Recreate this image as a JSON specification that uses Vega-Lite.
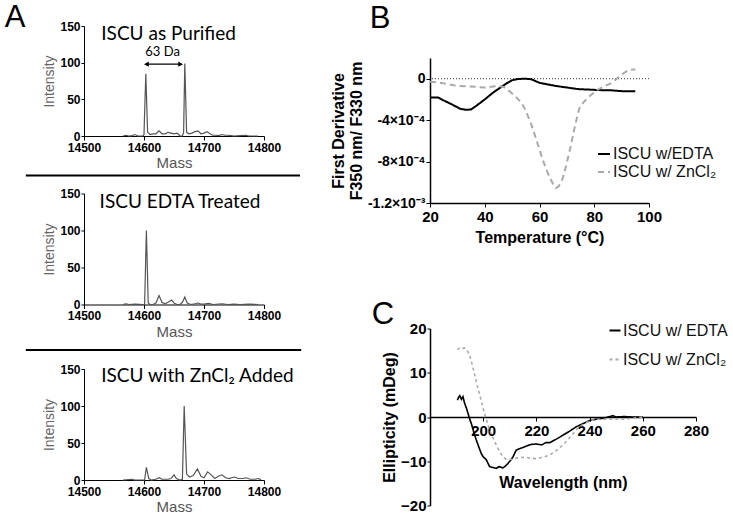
{
  "$schema": "https://vega.github.io/schema/vega-lite/v6.json",
  "padding": {"left": 4, "top": 2, "right": 0, "bottom": 0},
  "spacing": 27,
  "resolve": {"scale": {"color": "independent", "strokeDash": "independent"}},
  "config": {
    "view": {"stroke": null},
    "font": "Liberation Sans",
    "axis": {"domainColor": "#000", "tickColor": "#000", "labelColor": "#000", "titleColor": "#000", "grid": false, "labelFontWeight": "bold", "labelFont": "Liberation Sans", "titleFont": "Liberation Sans", "tickSize": 4, "labelFlush": false, "labelOverlap": false},
    "legend": {"padding": 0, "symbolType": "stroke", "symbolStrokeWidth": 2, "labelFont": "Liberation Sans", "labelFontSize": 16, "labelColor": "#111", "labelOffset": 4}
  },
  "hconcat": [
    {
      "spacing": 9,
      "vconcat": [
        {
          "spacing": 3.5,
          "vconcat": [
            {
              "width": 180, "height": 110,
              "layer": [
                {
                  "data": {"values": [
                    {"m": 14565, "i": 0}, {"m": 14570, "i": 1}, {"m": 14575, "i": 0}, {"m": 14580, "i": 0.5}, {"m": 14585, "i": 2}, {"m": 14590, "i": 0}, {"m": 14598, "i": 0}, {"m": 14600, "i": 2}, {"m": 14603, "i": 85}, {"m": 14606, "i": 5}, {"m": 14610, "i": 2}, {"m": 14615, "i": 3}, {"m": 14620, "i": 3}, {"m": 14625, "i": 7}, {"m": 14630, "i": 3}, {"m": 14635, "i": 3}, {"m": 14640, "i": 5}, {"m": 14645, "i": 4}, {"m": 14650, "i": 3}, {"m": 14655, "i": 4}, {"m": 14658, "i": 2}, {"m": 14660, "i": 0}, {"m": 14664, "i": 0}, {"m": 14666, "i": 5}, {"m": 14668, "i": 99}, {"m": 14671, "i": 5}, {"m": 14675, "i": 3}, {"m": 14680, "i": 4}, {"m": 14685, "i": 6}, {"m": 14690, "i": 7}, {"m": 14695, "i": 3}, {"m": 14700, "i": 4}, {"m": 14705, "i": 6}, {"m": 14710, "i": 3}, {"m": 14715, "i": 1}, {"m": 14720, "i": 1}, {"m": 14725, "i": 0.5}, {"m": 14730, "i": 2}, {"m": 14735, "i": 1}, {"m": 14740, "i": 1}, {"m": 14745, "i": 0.5}, {"m": 14750, "i": 0}, {"m": 14760, "i": 0.5}, {"m": 14770, "i": 1}, {"m": 14775, "i": 0}, {"m": 14790, "i": 0}
                  ]},
                  "mark": {"type": "line", "color": "#555", "strokeWidth": 1.2},
                  "encoding": {
                    "x": {"field": "m", "type": "quantitative", "scale": {"domain": [14500, 14800], "nice": false}, "axis": {"values": [14500, 14600, 14700, 14800], "format": "d", "title": "Mass", "labelFontSize": 12, "titleFontSize": 15, "titleFontWeight": "normal", "titleColor": "#555", "tickSize": 4, "labelPadding": 2, "titlePadding": 2.5}},
                    "y": {"field": "i", "type": "quantitative", "scale": {"domain": [0, 150], "nice": false}, "axis": {"tickCount": 3, "title": "Intensity", "labelFontSize": 12, "titleFontSize": 14, "titleFontWeight": "normal", "titleColor": "#666", "tickSize": 3, "labelPadding": 1, "titlePadding": 3, "labelOverlap": false}}
                  }
                },
                {"data": {"values": [{}]}, "mark": {"type": "text", "text": "ISCU as Purified", "font": "Lato", "fontSize": 19, "align": "center", "baseline": "middle"}, "encoding": {"x": {"datum": 14641}, "y": {"datum": 139}}},
                {"data": {"values": [{}]}, "mark": {"type": "text", "text": "63 Da", "font": "Lato", "fontSize": 13, "align": "center", "baseline": "middle"}, "encoding": {"x": {"datum": 14631}, "y": {"datum": 114}}},
                {"data": {"values": [{}]}, "mark": {"type": "rule", "color": "#000", "strokeWidth": 1.3}, "encoding": {"x": {"datum": 14604}, "x2": {"datum": 14661}, "y": {"datum": 98}}},
                {"data": {"values": [{}]}, "mark": {"type": "point", "shape": "triangle-left", "filled": true, "color": "#000", "size": 30, "opacity": 1}, "encoding": {"x": {"datum": 14604}, "y": {"datum": 98}}},
                {"data": {"values": [{}]}, "mark": {"type": "point", "shape": "triangle-right", "filled": true, "color": "#000", "size": 30, "opacity": 1}, "encoding": {"x": {"datum": 14661}, "y": {"datum": 98}}},
                {"data": {"values": [{}]}, "mark": {"type": "text", "text": "A", "fontSize": 31, "align": "center", "baseline": "middle"}, "encoding": {"x": {"datum": 14385}, "y": {"datum": 160.25}}}
              ]
            },
            {
              "width": 180, "height": 111,
              "layer": [
                {
                  "data": {"values": [
                    {"m": 14565, "i": 0}, {"m": 14570, "i": 1}, {"m": 14575, "i": 0}, {"m": 14585, "i": 0.5}, {"m": 14598, "i": 0}, {"m": 14601, "i": 0}, {"m": 14604, "i": 100}, {"m": 14607, "i": 2}, {"m": 14610, "i": 0}, {"m": 14615, "i": 0}, {"m": 14620, "i": 2}, {"m": 14625, "i": 12}, {"m": 14630, "i": 3}, {"m": 14635, "i": 1}, {"m": 14640, "i": 3}, {"m": 14646, "i": 6}, {"m": 14650, "i": 2}, {"m": 14655, "i": 0}, {"m": 14660, "i": 0}, {"m": 14664, "i": 3}, {"m": 14668, "i": 10}, {"m": 14672, "i": 2}, {"m": 14678, "i": 0}, {"m": 14685, "i": 1}, {"m": 14690, "i": 2}, {"m": 14695, "i": 0.5}, {"m": 14700, "i": 0.5}, {"m": 14708, "i": 1.5}, {"m": 14715, "i": 0}, {"m": 14730, "i": 1}, {"m": 14740, "i": 0}, {"m": 14750, "i": 0.5}, {"m": 14760, "i": 0}, {"m": 14775, "i": 0.5}, {"m": 14790, "i": 0}
                  ]},
                  "mark": {"type": "line", "color": "#555", "strokeWidth": 1.2},
                  "encoding": {
                    "x": {"field": "m", "type": "quantitative", "scale": {"domain": [14500, 14800], "nice": false}, "axis": {"values": [14500, 14600, 14700, 14800], "format": "d", "title": "Mass", "labelFontSize": 12, "titleFontSize": 15, "titleFontWeight": "normal", "titleColor": "#555", "tickSize": 4, "labelPadding": 2, "titlePadding": 2.5}},
                    "y": {"field": "i", "type": "quantitative", "scale": {"domain": [0, 150], "nice": false}, "axis": {"tickCount": 3, "title": "Intensity", "labelFontSize": 12, "titleFontSize": 14, "titleFontWeight": "normal", "titleColor": "#666", "tickSize": 3, "labelPadding": 1, "titlePadding": 3, "labelOverlap": false}}
                  }
                },
                {"data": {"values": [{}]}, "mark": {"type": "text", "text": "ISCU EDTA Treated", "font": "Lato", "fontSize": 19, "align": "center", "baseline": "middle"}, "encoding": {"x": {"datum": 14660}, "y": {"datum": 139}}},
                {"data": {"values": [{}]}, "mark": {"type": "rule", "color": "#000", "strokeWidth": 2}, "encoding": {"x": {"datum": 14403}, "x2": {"datum": 14860}, "y": {"datum": 174.3}}}
              ]
            }
          ]
        },
        {
          "width": 180, "height": 111,
          "layer": [
            {
              "data": {"values": [
                {"m": 14565, "i": 0}, {"m": 14580, "i": 1}, {"m": 14585, "i": 0}, {"m": 14598, "i": 0}, {"m": 14601, "i": 0}, {"m": 14604, "i": 17}, {"m": 14608, "i": 2}, {"m": 14612, "i": 0}, {"m": 14620, "i": 1}, {"m": 14625, "i": 3}, {"m": 14630, "i": 1}, {"m": 14640, "i": 1}, {"m": 14645, "i": 2}, {"m": 14650, "i": 7}, {"m": 14654, "i": 2}, {"m": 14660, "i": 0}, {"m": 14664, "i": 1}, {"m": 14667, "i": 100}, {"m": 14671, "i": 8}, {"m": 14676, "i": 4}, {"m": 14682, "i": 6}, {"m": 14689, "i": 15}, {"m": 14695, "i": 5}, {"m": 14700, "i": 3}, {"m": 14706, "i": 11}, {"m": 14712, "i": 7}, {"m": 14718, "i": 2}, {"m": 14724, "i": 5}, {"m": 14730, "i": 7}, {"m": 14736, "i": 3}, {"m": 14742, "i": 2}, {"m": 14750, "i": 4}, {"m": 14757, "i": 2}, {"m": 14765, "i": 2}, {"m": 14770, "i": 3}, {"m": 14777, "i": 1}, {"m": 14785, "i": 1}, {"m": 14790, "i": 2}, {"m": 14795, "i": 0.5}
              ]},
              "mark": {"type": "line", "color": "#555", "strokeWidth": 1.2},
              "encoding": {
                "x": {"field": "m", "type": "quantitative", "scale": {"domain": [14500, 14800], "nice": false}, "axis": {"values": [14500, 14600, 14700, 14800], "format": "d", "title": "Mass", "labelFontSize": 12, "titleFontSize": 15, "titleFontWeight": "normal", "titleColor": "#555", "tickSize": 4, "labelPadding": 2, "titlePadding": 2.5}},
                "y": {"field": "i", "type": "quantitative", "scale": {"domain": [0, 150], "nice": false}, "axis": {"tickCount": 3, "title": "Intensity", "labelFontSize": 12, "titleFontSize": 14, "titleFontWeight": "normal", "titleColor": "#666", "tickSize": 3, "labelPadding": 1, "titlePadding": 3, "labelOverlap": false}}
              }
            },
            {"data": {"values": [{}]}, "mark": {"type": "text", "text": "ISCU with ZnCl₂ Added", "font": "Lato", "fontSize": 19, "align": "center", "baseline": "middle"}, "encoding": {"x": {"datum": 14689}, "y": {"datum": 140.5}}},
            {"data": {"values": [{}]}, "mark": {"type": "rule", "color": "#000", "strokeWidth": 2}, "encoding": {"x": {"datum": 14403}, "x2": {"datum": 14862}, "y": {"datum": 175.7}}}
          ]
        }
      ]
    },
    {
      "spacing": 53.5,
      "resolve": {"scale": {"color": "independent", "strokeDash": "independent"}},
      "vconcat": [
        {
          "spacing": 24,
          "vconcat": [
            {
              "width": 219, "height": 1,
              "data": {"values": [{}]},
              "mark": {"type": "text", "text": "B", "fontSize": 31, "align": "center", "baseline": "middle"},
              "encoding": {"x": {"datum": 1.74, "scale": {"domain": [20, 100], "nice": false}, "axis": null}, "y": {"datum": 8.5, "scale": {"domain": [0, 1], "nice": false}, "axis": null}}
            },
            {
              "width": 219, "height": 145,
              "layer": [
                {"data": {"values": [{}]}, "mark": {"type": "rule", "color": "#333", "strokeWidth": 1, "strokeDash": [1, 2]}, "encoding": {"y": {"datum": 0}}},
                {
                  "data": {"values": [
                    {"t": 20, "v": -0.000182, "s": "ISCU w/EDTA"}, {"t": 23, "v": -0.000182, "s": "ISCU w/EDTA"}, {"t": 25, "v": -0.00021, "s": "ISCU w/EDTA"}, {"t": 28, "v": -0.000248, "s": "ISCU w/EDTA"}, {"t": 31, "v": -0.00029, "s": "ISCU w/EDTA"}, {"t": 33, "v": -0.0003, "s": "ISCU w/EDTA"}, {"t": 35, "v": -0.000297, "s": "ISCU w/EDTA"}, {"t": 37, "v": -0.00026, "s": "ISCU w/EDTA"}, {"t": 40, "v": -0.0002, "s": "ISCU w/EDTA"}, {"t": 43, "v": -0.000135, "s": "ISCU w/EDTA"}, {"t": 46, "v": -0.00008, "s": "ISCU w/EDTA"}, {"t": 48, "v": -0.000045, "s": "ISCU w/EDTA"}, {"t": 50, "v": -0.000015, "s": "ISCU w/EDTA"}, {"t": 52, "v": -0.000003, "s": "ISCU w/EDTA"}, {"t": 55, "v": 0, "s": "ISCU w/EDTA"}, {"t": 57, "v": -0.000005, "s": "ISCU w/EDTA"}, {"t": 60, "v": -0.00004, "s": "ISCU w/EDTA"}, {"t": 63, "v": -0.000055, "s": "ISCU w/EDTA"}, {"t": 66, "v": -0.00007, "s": "ISCU w/EDTA"}, {"t": 70, "v": -0.000085, "s": "ISCU w/EDTA"}, {"t": 74, "v": -0.0001, "s": "ISCU w/EDTA"}, {"t": 78, "v": -0.000105, "s": "ISCU w/EDTA"}, {"t": 82, "v": -0.00011, "s": "ISCU w/EDTA"}, {"t": 86, "v": -0.000112, "s": "ISCU w/EDTA"}, {"t": 90, "v": -0.00012, "s": "ISCU w/EDTA"}, {"t": 95, "v": -0.00012, "s": "ISCU w/EDTA"},
                    {"t": 20, "v": -0.000029, "s": "ISCU w/ ZnCl₂"}, {"t": 23, "v": -0.000035, "s": "ISCU w/ ZnCl₂"}, {"t": 25, "v": -0.000045, "s": "ISCU w/ ZnCl₂"}, {"t": 28, "v": -0.00006, "s": "ISCU w/ ZnCl₂"}, {"t": 30, "v": -0.00007, "s": "ISCU w/ ZnCl₂"}, {"t": 35, "v": -0.000075, "s": "ISCU w/ ZnCl₂"}, {"t": 40, "v": -0.000085, "s": "ISCU w/ ZnCl₂"}, {"t": 43, "v": -0.000075, "s": "ISCU w/ ZnCl₂"}, {"t": 45, "v": -0.00007, "s": "ISCU w/ ZnCl₂"}, {"t": 47, "v": -0.00008, "s": "ISCU w/ ZnCl₂"}, {"t": 49, "v": -0.00012, "s": "ISCU w/ ZnCl₂"}, {"t": 51, "v": -0.000165, "s": "ISCU w/ ZnCl₂"}, {"t": 53.5, "v": -0.000235, "s": "ISCU w/ ZnCl₂"}, {"t": 55, "v": -0.00031, "s": "ISCU w/ ZnCl₂"}, {"t": 57, "v": -0.00044, "s": "ISCU w/ ZnCl₂"}, {"t": 59, "v": -0.0006, "s": "ISCU w/ ZnCl₂"}, {"t": 61, "v": -0.00077, "s": "ISCU w/ ZnCl₂"}, {"t": 63, "v": -0.00091, "s": "ISCU w/ ZnCl₂"}, {"t": 65, "v": -0.00102, "s": "ISCU w/ ZnCl₂"}, {"t": 66, "v": -0.001055, "s": "ISCU w/ ZnCl₂"}, {"t": 67, "v": -0.00104, "s": "ISCU w/ ZnCl₂"}, {"t": 68.5, "v": -0.00096, "s": "ISCU w/ ZnCl₂"}, {"t": 70, "v": -0.00081, "s": "ISCU w/ ZnCl₂"}, {"t": 71.5, "v": -0.00064, "s": "ISCU w/ ZnCl₂"}, {"t": 73, "v": -0.00045, "s": "ISCU w/ ZnCl₂"}, {"t": 74.5, "v": -0.00029, "s": "ISCU w/ ZnCl₂"}, {"t": 76, "v": -0.00023, "s": "ISCU w/ ZnCl₂"}, {"t": 78, "v": -0.000175, "s": "ISCU w/ ZnCl₂"}, {"t": 81, "v": -0.00011, "s": "ISCU w/ ZnCl₂"}, {"t": 84, "v": -0.00007, "s": "ISCU w/ ZnCl₂"}, {"t": 86, "v": -0.000045, "s": "ISCU w/ ZnCl₂"}, {"t": 88, "v": -0.000005, "s": "ISCU w/ ZnCl₂"}, {"t": 90, "v": 0.00004, "s": "ISCU w/ ZnCl₂"}, {"t": 92, "v": 0.000075, "s": "ISCU w/ ZnCl₂"}, {"t": 94, "v": 0.00009, "s": "ISCU w/ ZnCl₂"}, {"t": 95, "v": 0.00009, "s": "ISCU w/ ZnCl₂"}
                  ]},
                  "mark": {"type": "line", "strokeWidth": 2},
                  "encoding": {
                    "x": {"field": "t", "type": "quantitative", "scale": {"domain": [20, 100], "nice": false}, "axis": {"values": [20, 40, 60, 80, 100], "title": "Temperature (°C)", "labelFontSize": 15, "titleFontSize": 16, "titleFontWeight": "bold", "tickSize": 4, "labelPadding": 2, "titlePadding": 5, "domainWidth": 1.5}},
                    "y": {"field": "v", "type": "quantitative", "scale": {"domain": [-0.0012, 0.0002], "nice": false, "zero": false}, "axis": {"values": [0, -0.0004, -0.0008, -0.0012], "labelExpr": "datum.value > -0.0001 ? '0' : datum.value > -0.0005 ? '-4×10⁻⁴' : datum.value > -0.0009 ? '-8×10⁻⁴' : '-1.2×10⁻³'", "title": ["First Derivative", "F350 nm/ F330 nm"], "labelFontSize": 14, "titleFontSize": 16, "titleFontWeight": "bold", "titleLineHeight": 18, "tickSize": 4, "labelPadding": 1, "titlePadding": 3, "domainWidth": 1.5}},
                    "color": {"field": "s", "type": "nominal", "scale": {"domain": ["ISCU w/EDTA", "ISCU w/ ZnCl₂"], "range": ["#000000", "#aaaaaa"]}, "legend": {"title": null, "orient": "none", "legendX": 166, "legendY": 120, "symbolSize": 144, "rowPadding": 2, "labelOffset": 1}},
                    "strokeDash": {"field": "s", "type": "nominal", "scale": {"domain": ["ISCU w/EDTA", "ISCU w/ ZnCl₂"], "range": [[1, 0], [6, 4]]}, "legend": {"title": null, "orient": "none", "legendX": 166, "legendY": 120, "symbolSize": 144, "rowPadding": 2, "labelOffset": 1}}
                  }
                }
              ]
            }
          ]
        },
        {
          "width": 266, "height": 177,
          "layer": [
            {
              "data": {"values": [
                {"w": 190.3, "e": 3.8, "s": "ISCU w/ EDTA"}, {"w": 190.8, "e": 4.5, "s": "ISCU w/ EDTA"}, {"w": 191.2, "e": 4.8, "s": "ISCU w/ EDTA"}, {"w": 191.8, "e": 4.0, "s": "ISCU w/ EDTA"}, {"w": 192.4, "e": 4.6, "s": "ISCU w/ EDTA"}, {"w": 193, "e": 3.1, "s": "ISCU w/ EDTA"}, {"w": 193.7, "e": 2.0, "s": "ISCU w/ EDTA"}, {"w": 194.3, "e": 0.8, "s": "ISCU w/ EDTA"}, {"w": 195, "e": -0.6, "s": "ISCU w/ EDTA"}, {"w": 195.5, "e": -1.4, "s": "ISCU w/ EDTA"}, {"w": 196.5, "e": -3.5, "s": "ISCU w/ EDTA"}, {"w": 197.4, "e": -5.2, "s": "ISCU w/ EDTA"}, {"w": 198.5, "e": -7, "s": "ISCU w/ EDTA"}, {"w": 199.3, "e": -8.3, "s": "ISCU w/ EDTA"}, {"w": 200, "e": -9, "s": "ISCU w/ EDTA"}, {"w": 201.1, "e": -9.6, "s": "ISCU w/ EDTA"}, {"w": 202.4, "e": -11.2, "s": "ISCU w/ EDTA"}, {"w": 203.5, "e": -11.4, "s": "ISCU w/ EDTA"}, {"w": 204.9, "e": -11.6, "s": "ISCU w/ EDTA"}, {"w": 206, "e": -11.2, "s": "ISCU w/ EDTA"}, {"w": 207.4, "e": -11.5, "s": "ISCU w/ EDTA"}, {"w": 208.5, "e": -11.0, "s": "ISCU w/ EDTA"}, {"w": 209.3, "e": -10.5, "s": "ISCU w/ EDTA"}, {"w": 210.3, "e": -9.8, "s": "ISCU w/ EDTA"}, {"w": 211.2, "e": -9, "s": "ISCU w/ EDTA"}, {"w": 212.4, "e": -7.5, "s": "ISCU w/ EDTA"}, {"w": 213.5, "e": -7.2, "s": "ISCU w/ EDTA"}, {"w": 214.9, "e": -6.9, "s": "ISCU w/ EDTA"}, {"w": 216.5, "e": -6.5, "s": "ISCU w/ EDTA"}, {"w": 218, "e": -6.2, "s": "ISCU w/ EDTA"}, {"w": 219.9, "e": -6.1, "s": "ISCU w/ EDTA"}, {"w": 222, "e": -6.3, "s": "ISCU w/ EDTA"}, {"w": 223.5, "e": -5.8, "s": "ISCU w/ EDTA"}, {"w": 225, "e": -5.8, "s": "ISCU w/ EDTA"}, {"w": 227.5, "e": -5.0, "s": "ISCU w/ EDTA"}, {"w": 230, "e": -4.1, "s": "ISCU w/ EDTA"}, {"w": 232.5, "e": -3.2, "s": "ISCU w/ EDTA"}, {"w": 235, "e": -2.2, "s": "ISCU w/ EDTA"}, {"w": 237.5, "e": -1.5, "s": "ISCU w/ EDTA"}, {"w": 240, "e": -0.8, "s": "ISCU w/ EDTA"}, {"w": 242.5, "e": -0.5, "s": "ISCU w/ EDTA"}, {"w": 245, "e": -0.3, "s": "ISCU w/ EDTA"}, {"w": 247, "e": 0, "s": "ISCU w/ EDTA"}, {"w": 248.7, "e": 0.3, "s": "ISCU w/ EDTA"}, {"w": 250, "e": 0, "s": "ISCU w/ EDTA"}, {"w": 253, "e": 0.1, "s": "ISCU w/ EDTA"}, {"w": 256, "e": 0, "s": "ISCU w/ EDTA"}, {"w": 260, "e": 0, "s": "ISCU w/ EDTA"},
                {"w": 190.3, "e": 15.2, "s": "ISCU w/ ZnCl₂"}, {"w": 191.2, "e": 15.7, "s": "ISCU w/ ZnCl₂"}, {"w": 192, "e": 15.5, "s": "ISCU w/ ZnCl₂"}, {"w": 193, "e": 15.6, "s": "ISCU w/ ZnCl₂"}, {"w": 194, "e": 15.0, "s": "ISCU w/ ZnCl₂"}, {"w": 194.9, "e": 14, "s": "ISCU w/ ZnCl₂"}, {"w": 195.8, "e": 12, "s": "ISCU w/ ZnCl₂"}, {"w": 196.8, "e": 9.5, "s": "ISCU w/ ZnCl₂"}, {"w": 197.7, "e": 7.2, "s": "ISCU w/ ZnCl₂"}, {"w": 198.7, "e": 5, "s": "ISCU w/ ZnCl₂"}, {"w": 199.6, "e": 2.8, "s": "ISCU w/ ZnCl₂"}, {"w": 200.5, "e": 0.8, "s": "ISCU w/ ZnCl₂"}, {"w": 201.5, "e": -1.2, "s": "ISCU w/ ZnCl₂"}, {"w": 202.4, "e": -2.9, "s": "ISCU w/ ZnCl₂"}, {"w": 203.6, "e": -4.6, "s": "ISCU w/ ZnCl₂"}, {"w": 204.9, "e": -6.3, "s": "ISCU w/ ZnCl₂"}, {"w": 206.2, "e": -7.8, "s": "ISCU w/ ZnCl₂"}, {"w": 207.4, "e": -9, "s": "ISCU w/ ZnCl₂"}, {"w": 208.4, "e": -9.5, "s": "ISCU w/ ZnCl₂"}, {"w": 209.3, "e": -9.7, "s": "ISCU w/ ZnCl₂"}, {"w": 211.2, "e": -9.5, "s": "ISCU w/ ZnCl₂"}, {"w": 213, "e": -9.2, "s": "ISCU w/ ZnCl₂"}, {"w": 214.9, "e": -9.1, "s": "ISCU w/ ZnCl₂"}, {"w": 217.5, "e": -9.3, "s": "ISCU w/ ZnCl₂"}, {"w": 219.9, "e": -9.4, "s": "ISCU w/ ZnCl₂"}, {"w": 222.5, "e": -9.1, "s": "ISCU w/ ZnCl₂"}, {"w": 225, "e": -8.6, "s": "ISCU w/ ZnCl₂"}, {"w": 227.5, "e": -7.6, "s": "ISCU w/ ZnCl₂"}, {"w": 230, "e": -6.3, "s": "ISCU w/ ZnCl₂"}, {"w": 232.5, "e": -4.7, "s": "ISCU w/ ZnCl₂"}, {"w": 235, "e": -2.9, "s": "ISCU w/ ZnCl₂"}, {"w": 237, "e": -1.9, "s": "ISCU w/ ZnCl₂"}, {"w": 238.7, "e": -1.3, "s": "ISCU w/ ZnCl₂"}, {"w": 240.5, "e": -0.8, "s": "ISCU w/ ZnCl₂"}, {"w": 242.5, "e": -0.5, "s": "ISCU w/ ZnCl₂"}, {"w": 247.5, "e": -0.5, "s": "ISCU w/ ZnCl₂"}, {"w": 252.5, "e": -0.5, "s": "ISCU w/ ZnCl₂"}, {"w": 256, "e": -0.3, "s": "ISCU w/ ZnCl₂"}, {"w": 260, "e": 0, "s": "ISCU w/ ZnCl₂"}
              ]},
              "mark": {"type": "line", "strokeWidth": 1.6},
              "encoding": {
                "x": {"field": "w", "type": "quantitative", "scale": {"domain": [180, 280], "nice": false}, "axis": {"values": [200, 220, 240, 260, 280], "offset": -88.5, "title": "Wavelength (nm)", "labelFontSize": 15, "titleFontSize": 16, "titleFontWeight": "bold", "tickSize": 4, "labelPadding": 2, "titlePadding": 36.5, "domainWidth": 1.5}},
                "y": {"field": "e", "type": "quantitative", "scale": {"domain": [-20, 20], "nice": false}, "axis": {"values": [-20, -10, 0, 10, 20], "title": "Ellipticity (mDeg)", "labelFontSize": 15, "titleFontSize": 16, "titleFontWeight": "bold", "tickSize": 3, "labelPadding": 1, "titlePadding": 3, "domainWidth": 1.5}},
                "color": {"field": "s", "type": "nominal", "scale": {"domain": ["ISCU w/ EDTA", "ISCU w/ ZnCl₂"], "range": ["#000000", "#aaaaaa"]}, "legend": {"title": null, "orient": "none", "legendX": 177, "legendY": -6, "symbolSize": 121, "rowPadding": 13, "labelOffset": 0}},
                "strokeDash": {"field": "s", "type": "nominal", "scale": {"domain": ["ISCU w/ EDTA", "ISCU w/ ZnCl₂"], "range": [[1, 0], [3, 3]]}, "legend": {"title": null, "orient": "none", "legendX": 177, "legendY": -6, "symbolSize": 121, "rowPadding": 13, "labelOffset": 0}}
              }
            },
            {"data": {"values": [{}]}, "mark": {"type": "text", "text": "C", "fontSize": 31, "align": "center", "baseline": "middle"}, "encoding": {"x": {"datum": 162.3}, "y": {"datum": 23.05}}}
          ]
        }
      ]
    }
  ]
}
